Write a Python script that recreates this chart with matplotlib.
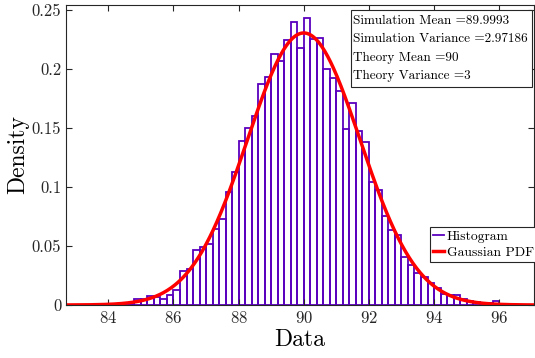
import numpy as np
import matplotlib
matplotlib.use("Agg")
import matplotlib.pyplot as plt
from matplotlib.lines import Line2D
from matplotlib.patches import Rectangle

plt.rcParams['font.family'] = 'serif'
plt.rcParams['font.serif'] = ['cmr10']
plt.rcParams['mathtext.fontset'] = 'cm'
plt.rcParams['axes.formatter.use_mathtext'] = True

# histogram bins (width 0.2) and densities
bin_start = 84.4
bin_width = 0.2
density = [0.0005, 0.001, 0.0048, 0.0051, 0.0076, 0.0071, 0.0054, 0.0088,
           0.0124, 0.0285, 0.0308, 0.0466, 0.0492, 0.0514, 0.0647, 0.0729,
           0.0955, 0.113, 0.139, 0.1497, 0.1596, 0.187, 0.193, 0.2124,
           0.207, 0.224, 0.2393, 0.218, 0.2427, 0.2252, 0.226, 0.1997,
           0.192, 0.1816, 0.149, 0.171, 0.1477, 0.1376, 0.1045, 0.0975,
           0.0757, 0.0636, 0.0590, 0.0404, 0.0339, 0.0268, 0.024, 0.0184,
           0.0141, 0.0095, 0.0085, 0.0082, 0.005, 0.0034, 0.0025, 0.002,
           0.0015, 0.0034]

theory_mean = 90
theory_var = 3
sim_mean = "89.9993"
sim_var = "2.97186"

x_ticks = [84, 86, 88, 90, 92, 94, 96]
y_ticks = [0, 0.05, 0.1, 0.15, 0.2, 0.25]
y_tick_labels = ["0", "0.05", "0.1", "0.15", "0.2", "0.25"]

purple = '#5A00BE'
axcol = '#262626'

W, H = 535, 358
fig = plt.figure(figsize=(W / 100, H / 100), dpi=100)
ax = fig.add_axes([66 / W, (H - 305) / H, 468 / W, 300 / H])

lefts = np.round(bin_start + bin_width * np.arange(len(density)), 1)
ax.bar(lefts, density, width=bin_width, align='edge', fill=False,
       edgecolor=purple, linewidth=1.3)

xs = np.linspace(82.7, 97.07, 500)
pdf = np.exp(-(xs - theory_mean) ** 2 / (2 * theory_var)) / np.sqrt(2 * np.pi * theory_var)
ax.plot(xs, pdf, color='#FF0000', linewidth=2.5)

ax.set_xlim(82.7, 97.07)
ax.set_ylim(0, 0.254)
ax.set_xticks(x_ticks)
ax.set_yticks(y_ticks)
ax.set_yticklabels(y_tick_labels)
ax.tick_params(direction='in', top=True, right=True, labelsize=12,
               colors=axcol, length=4, width=0.8)
for s in ax.spines.values():
    s.set_color(axcol)
    s.set_linewidth(0.8)

ax.set_xlabel('Data', fontsize=17, color='black', labelpad=2)
ax.set_ylabel('Density', fontsize=17, color='black', labelpad=2)

handles = [Line2D([], [], color=purple, linewidth=1.3),
           Line2D([], [], color='#FF0000', linewidth=2.5)]
leg = ax.legend(handles, ['Histogram', 'Gaussian PDF'], loc='upper left',
                bbox_to_anchor=((430 - 66) / 468, (305 - 227) / 300), fontsize=9.8,
                frameon=True, fancybox=False, framealpha=1, edgecolor=axcol,
                handlelength=0.8, handletextpad=0.2, borderpad=0.25,
                labelspacing=0.25, borderaxespad=0)
leg.get_frame().set_linewidth(0.8)

# statistics text box (MATLAB annotation style)
info = [f"Simulation Mean ={sim_mean}",
        f"Simulation Variance ={sim_var}",
        f"Theory Mean ={theory_mean}",
        f"Theory Variance ={theory_var}"]
fig.patches.append(Rectangle((351 / W, 1 - 87 / H), 181 / W, 77 / H,
                             transform=fig.transFigure, facecolor='white',
                             edgecolor=axcol, linewidth=0.8, zorder=5))
for i, line in enumerate(info):
    fig.text(353 / W, 1 - (24 + 18.3 * i) / H, line, fontsize=9.5,
             va='baseline', ha='left', zorder=6)

fig.savefig('out.png', dpi=100)
